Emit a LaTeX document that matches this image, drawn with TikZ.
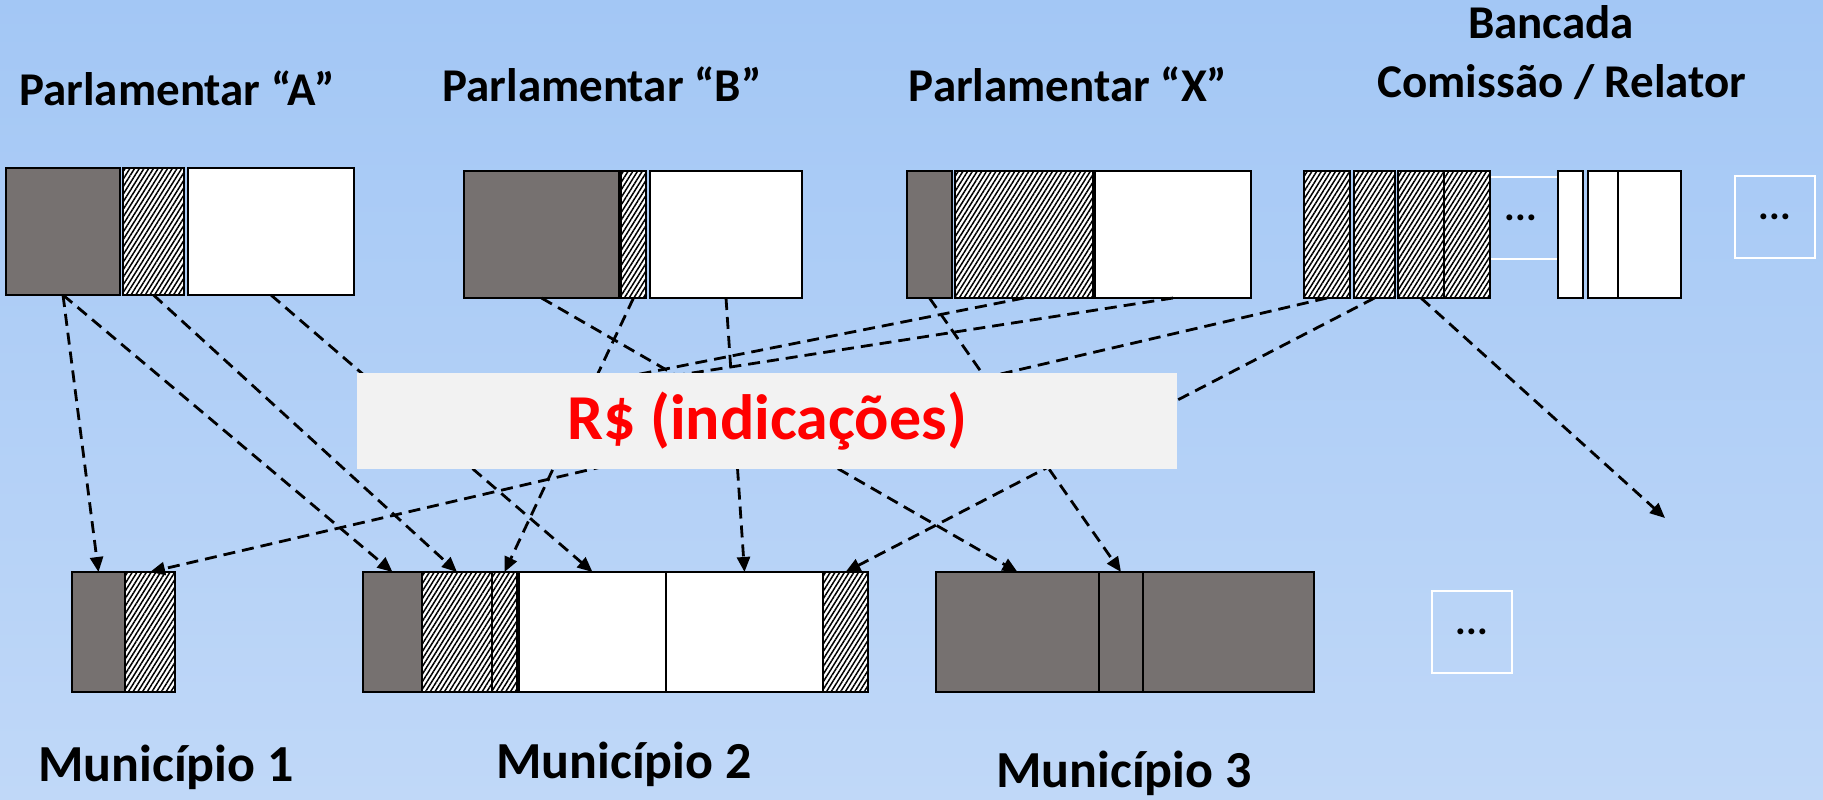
\documentclass[tikz,border=0pt]{standalone}
\usepackage{fontspec}
\setmainfont{Carlito}
\usetikzlibrary{arrows.meta,positioning,patterns.meta}
\definecolor{bgtop}{RGB}{163,199,245}
\definecolor{bgbot}{RGB}{192,216,248}
\definecolor{partgray}{RGB}{118,113,112}
\definecolor{labelgray}{RGB}{242,242,242}
\begin{document}
\begin{tikzpicture}[x=0.5pt,y=-0.5pt,>={Triangle[length=7.5pt,width=6.5pt]},
  part/.style={draw,line width=1.4pt,inner sep=0pt,outer sep=0pt,minimum height=63.5pt},
  low/.style={part,minimum height=60pt},
  dark/.style={fill=partgray},
  hatch/.style={preaction={fill=white},pattern={Lines[angle=58,distance=2pt,line width=0.75pt]}},
  blank/.style={fill=white},
  more/.style={draw=white,line width=0.8pt,inner sep=0pt,minimum width=40pt,minimum height=41pt,font=\bfseries\fontsize{20}{20}\selectfont},
  head/.style={font=\bfseries\fontsize{23.5}{26}\selectfont,anchor=base},
  town/.style={font=\bfseries\fontsize{26}{28}\selectfont,anchor=base},
  link/.style={->,line width=1.4pt,dash pattern=on 6pt off 3.5pt}]
  \shade[top color=bgtop,bottom color=bgbot] (0,0) rectangle (1823,799);
  \useasboundingbox (0,0) rectangle (1823,799);

  \node[head] (pa) at (177,105) {Parlamentar “A”};
  \node[head] (pb) at (602,101) {Parlamentar “B”};
  \node[head] (px) at (1068,101) {Parlamentar “X”};
  \node[head] (bancada) at (1551,38) {Bancada};
  \node[head] (relator) at (1562,97) {Comissão / Relator};

  \node[part,dark,minimum width=57pt,anchor=north west] (adark) at (6,168) {};
  \node[part,hatch,minimum width=30.5pt,right=1.5pt of adark] (ahat) {};
  \node[part,blank,minimum width=83pt,right=2pt of ahat] (awhite) {};

  \node[part,dark,minimum width=77.5pt,anchor=north west] (bdark) at (464,171) {};
  \node[part,hatch,minimum width=12.5pt,right=1pt of bdark] (bhat) {};
  \node[part,blank,minimum width=76pt,right=2pt of bhat] (bwhite) {};

  \node[part,dark,minimum width=22.5pt,anchor=north west] (xdark) at (907,171) {};
  \node[part,hatch,minimum width=69pt,right=1.5pt of xdark] (xhat) {};
  \node[part,blank,minimum width=78pt,right=1pt of xhat] (xwhite) {};

  \node[more,anchor=north west] (cdots) at (1480,176) {...};
  \node[part,hatch,minimum width=23pt,anchor=north west] (chat1) at (1304,171) {};
  \node[part,hatch,minimum width=20.5pt,right=2pt of chat1] (chat2) {};
  \node[part,hatch,minimum width=23pt,right=1.5pt of chat2] (chat3) {};
  \node[part,hatch,minimum width=23pt,right=0pt of chat3] (chat4) {};
  \node[part,blank,minimum width=12.5pt,right=34pt of chat4] (cwhite1) {};
  \node[part,blank,minimum width=15pt,right=2.5pt of cwhite1] (cwhite2) {};
  \node[part,blank,minimum width=31.5pt,right=0pt of cwhite2] (cwhite3) {};
  \node[more,anchor=north west] (topdots) at (1734,175) {...};

  \node[low,dark,minimum width=26.5pt,anchor=north west] (m1dark) at (72,572) {};
  \node[low,hatch,minimum width=25pt,right=0pt of m1dark] (m1hat) {};

  \node[low,dark,minimum width=29.5pt,anchor=north west] (m2dark) at (363,572) {};
  \node[low,hatch,minimum width=35pt,right=0pt of m2dark] (m2hat) {};
  \node[low,hatch,minimum width=12.5pt,right=0pt of m2hat] (m2thin) {};
  \node[low,blank,minimum width=73.5pt,right=1pt of m2thin] (m2white) {};
  \node[low,blank,minimum width=78.5pt,right=0pt of m2white] (m2wide) {};
  \node[low,hatch,minimum width=22.5pt,right=0pt of m2wide] (m2end) {};

  \node[low,dark,minimum width=81.5pt,anchor=north west] (m3dark) at (936,572) {};
  \node[low,dark,minimum width=22pt,right=0pt of m3dark] (m3mid) {};
  \node[low,dark,minimum width=85.5pt,right=0pt of m3mid] (m3end) {};
  \node[more,anchor=north west] (lowdots) at (1431,590) {...};

  \node[town] (mun1) at (166,781) {Município 1};
  \node[town] (mun2) at (624,778) {Município 2};
  \node[town] (mun3) at (1124,787) {Município 3};

  \coordinate (hide1) at (620,378);
  \coordinate (hide2) at (660,378);
  \coordinate (loose) at (1665,518);

  \draw[link] (adark.south) -- (m1dark.north);
  \draw[link] (adark.south) -- (m2dark.north);
  \draw[link] (ahat.south) -- (m2hat.north);
  \draw[link] (awhite.south) -- (m2white.north);
  \draw[link] (bdark.south) -- (m3dark.north);
  \draw[link] (bhat.south) -- (m2thin.north);
  \draw[link] (bwhite.south) -- (m2wide.north);
  \draw[link] (xdark.south) -- (m3mid.north);
  \draw[link,-] (xhat.south) -- (hide1);
  \draw[link,-] (xwhite.south) -- (hide2);
  \draw[link] (chat1.south) -- (m1hat.north);
  \draw[link] (chat2.south) -- (m2end.north);
  \draw[link] (chat3.south) -- (loose);

  \node[fill=labelgray,minimum width=410pt,minimum height=48pt,text=red,font=\bfseries\fontsize{32}{36}\selectfont] (money) at (767,421) {R\$ (indicações)};
\end{tikzpicture}
\end{document}
